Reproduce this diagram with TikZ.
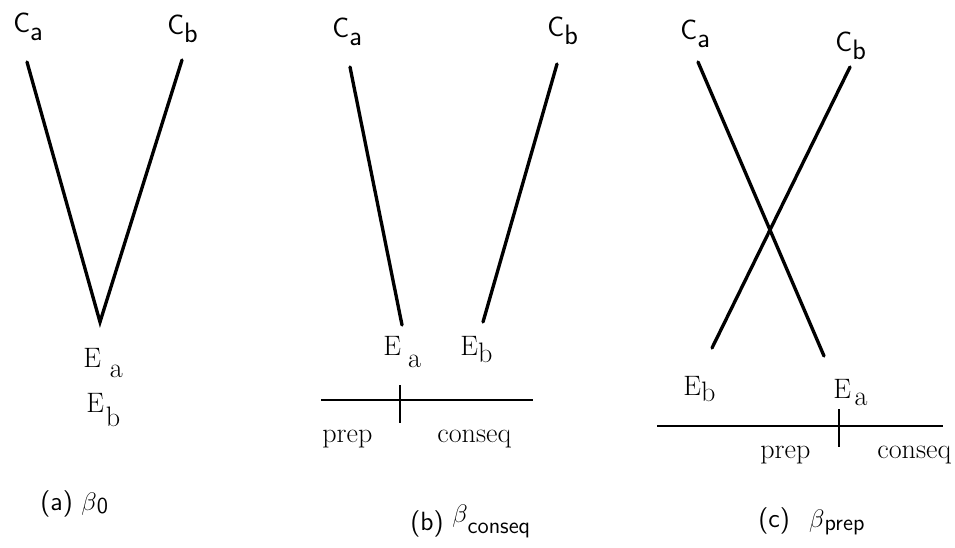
\documentclass[tikz,border=0pt]{standalone}
\usepackage{amsmath}
\usepackage{tikz}
\usetikzlibrary{positioning}
\newcommand{\lowsub}[2][4pt]{\raisebox{-#1}{#2}}
\newcommand{\capsub}[1]{\raisebox{-2pt}{\fontsize{13}{15}\selectfont #1}}
\tikzset{
    clabel/.style={font=\sffamily\fontsize{16}{18}\selectfont, inner sep=0pt, anchor=base west},
    elabel/.style={font=\fontsize{16}{18}\selectfont, inner sep=0pt, anchor=base west},
    phase/.style={font=\fontsize{16}{18}\selectfont, inner sep=0pt, anchor=base west},
    caption/.style={font=\sffamily\fontsize{15}{18}\selectfont, inner sep=0pt, anchor=base west},
}

\begin{document}
\begin{tikzpicture}[x=0.02cm, y=-0.02cm,
    stroke/.style={line width=1.9pt, line cap=round},
    rule/.style={line width=1.1pt}]
\useasboundingbox (0,0) rectangle (955,547);
% (a) beta_0
\node[clabel] (ca1) at (13,33) {C\lowsub{a}};
\node[clabel] (cb1) at (167,35) {C\lowsub{b}};
\coordinate (ta1) at (27,62);
\coordinate (tb1) at (182,60);
\coordinate (v1) at (100,322);
\draw[stroke] (ta1) -- (v1) -- (tb1);
\node[elabel] (ea1) at (83,367) {E\hspace{5pt}\lowsub[6pt]{a}};
\node[elabel] (eb1) at (86,412) {E\hspace{1pt}\lowsub[8pt]{b}};
\node[caption] (cap1) at (40,510) {(a) $\beta$\capsub{0}};
% (b) beta_conseq
\node[clabel] (ca2) at (332,38) {C\lowsub{a}};
\node[clabel] (cb2) at (547,37) {C\lowsub{b}};
\coordinate (ta2) at (350,67);
\coordinate (tb2) at (557,64);
\coordinate (ba2) at (402,325);
\coordinate (bb2) at (483,322);
\draw[stroke] (ta2) -- (ba2);
\draw[stroke] (tb2) -- (bb2);
\node[elabel] (ea2) at (383,355) {E\hspace{4pt}\lowsub[7pt]{a}};
\node[elabel] (eb2) at (460,355) {E\lowsub{b}};
\coordinate (rl2) at (321,400);
\coordinate (rr2) at (533,400);
\coordinate (kt2) at (400,385);
\coordinate (kb2) at (400,423);
\draw[rule] (rl2) -- (rr2);
\draw[rule] (kt2) -- (kb2);
\node[phase] (pr2) at (322,442) {prep};
\node[phase] (co2) at (437,442) {conseq};
\node[caption] (cap2) at (410,530) {(b) \raisebox{4pt}{$\beta$}\capsub{conseq}};
% (c) beta_prep
\node[clabel] (ca3) at (680,40) {C\lowsub{a}};
\node[clabel] (cb3) at (835,52) {C\lowsub{b}};
\coordinate (ta3) at (698,62);
\coordinate (tb3) at (850,67);
\coordinate (ba3) at (824,356);
\coordinate (bb3) at (712,348);
\draw[stroke] (ta3) -- (ba3);
\draw[stroke] (tb3) -- (bb3);
\node[elabel] (eb3) at (683,395) {E\lowsub[3.5pt]{b}};
\node[elabel] (ea3) at (833,398) {E\hspace{2pt}\lowsub[4pt]{a}};
\coordinate (rl3) at (657,426);
\coordinate (rr3) at (943,426);
\coordinate (kt3) at (839,409);
\coordinate (kb3) at (839,447);
\draw[rule] (rl3) -- (rr3);
\draw[rule] (kt3) -- (kb3);
\node[phase] (pr3) at (760,458) {prep};
\node[phase] (co3) at (877,458) {conseq};
\node[caption] (cap3) at (758,527) {(c)\hspace{11pt}$\beta$\capsub{prep}};
\end{tikzpicture}
\end{document}
